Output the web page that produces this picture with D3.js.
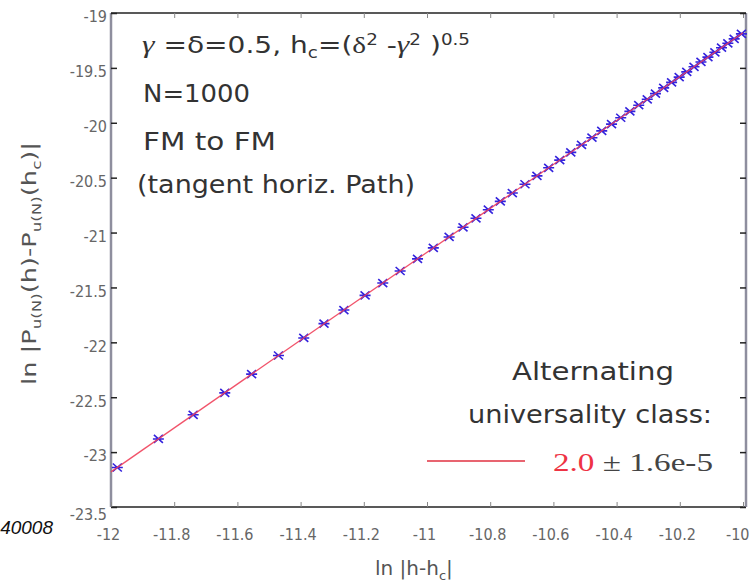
<!DOCTYPE html>
<html><head><meta charset="utf-8">
<script src="https://cdn.jsdelivr.net/npm/d3@7"></script>
<style>
html,body{margin:0;padding:0;background:#fff;}
svg{display:block;}
</style></head>
<body>
<svg id="chart" width="749" height="587"></svg>
<script>
// ---- data ----
const lnH = [-11.98,-11.85,-11.74,-11.64,-11.555,-11.47,-11.39,-11.326,-11.263,-11.196,-11.14,-11.085,-11.03,-10.98,-10.93,-10.886,-10.845,-10.806,-10.768,-10.73,-10.69,-10.652,-10.615,-10.58,-10.545,-10.511,-10.478,-10.447,-10.416,-10.387,-10.358,-10.33,-10.303,-10.277,-10.251,-10.226,-10.202,-10.178,-10.155,-10.133,-10.111,-10.089,-10.068,-10.048,-10.028,-10.005];
const lnP = [-23.14,-22.88,-22.66,-22.46,-22.29,-22.12,-21.96,-21.83,-21.706,-21.572,-21.46,-21.35,-21.24,-21.14,-21.04,-20.952,-20.87,-20.792,-20.716,-20.64,-20.56,-20.484,-20.41,-20.34,-20.27,-20.202,-20.136,-20.074,-20.012,-19.954,-19.896,-19.84,-19.786,-19.734,-19.682,-19.632,-19.584,-19.536,-19.49,-19.446,-19.402,-19.358,-19.316,-19.276,-19.236,-19.19];
const fitX = [-12, -10];
const fitY = [-23.18, -19.18];
const xTicks = [-12,-11.8,-11.6,-11.4,-11.2,-11,-10.8,-10.6,-10.4,-10.2,-10];
const yTicks = [-19,-19.5,-20,-20.5,-21,-21.5,-22,-22.5,-23,-23.5];
const xDomain = [-12, -10];
const yDomain = [-23.5, -19];

const svg = d3.select('#chart');
const L = 111, R = 743, T = 13, B = 507;
const x = d3.scaleLinear().domain(xDomain).range([L, R]);
const y = d3.scaleLinear().domain(yDomain).range([B, T]);

const tickFont = "'DejaVu Sans Condensed','DejaVu Sans',sans-serif";
const txtFont = "'DejaVu Sans',sans-serif";

// ---- frame ----
svg.append('line').attr('x1',L).attr('x2',R+3).attr('y1',T).attr('y2',T).attr('stroke','#222').attr('stroke-width',1.5);
svg.append('line').attr('x1',L).attr('x2',R+3).attr('y1',B).attr('y2',B).attr('stroke','#222').attr('stroke-width',1.5);
svg.append('line').attr('x1',L).attr('x2',L).attr('y1',T).attr('y2',B).attr('stroke','#8e8e9e').attr('stroke-width',2.5);
svg.append('line').attr('x1',R+3).attr('x2',R+3).attr('y1',T).attr('y2',B).attr('stroke','#8e8e9e').attr('stroke-width',2.5);

// ---- axes ----
const fmt = d => String(d);
const gx = svg.append('g').attr('transform',`translate(0,${B})`)
  .call(d3.axisBottom(x).tickValues(xTicks).tickFormat(fmt).tickSizeInner(-5).tickSizeOuter(0).tickPadding(22));
const gxTop = svg.append('g').attr('transform',`translate(0,${T})`)
  .call(d3.axisTop(x).tickValues(xTicks).tickFormat('').tickSizeInner(-5).tickSizeOuter(0));
const gy = svg.append('g').attr('transform',`translate(${L},0)`)
  .call(d3.axisLeft(y).tickValues(yTicks).tickFormat(fmt).tickSizeInner(-6).tickSizeOuter(0).tickPadding(4));
const gyR = svg.append('g').attr('transform',`translate(${R+3},0)`)
  .call(d3.axisRight(y).tickValues(yTicks).tickFormat('').tickSizeInner(-6).tickSizeOuter(0));
[gx,gxTop,gy,gyR].forEach(g=>{ g.select('.domain').remove(); });
gx.selectAll('line').attr('stroke','#888');
gxTop.selectAll('line').attr('stroke','#888');
gy.selectAll('line').attr('stroke','#222').attr('stroke-width',1.5);
gyR.selectAll('line').attr('stroke','#222').attr('stroke-width',1.5);
gx.selectAll('text').attr('font-family',tickFont).attr('font-size',16).attr('fill','#666').attr('dx',-3);
gx.selectAll('.tick').filter(d=>d===-10).select('text').attr('text-anchor','end').attr('dx',6);
gy.selectAll('text').attr('font-family',tickFont).attr('font-size',16).attr('fill','#666').attr('dy','0.55em');
gy.selectAll('.tick').filter(d=>d===-23.5).select('text').attr('dy','0.8em');

// ---- data marks ----
const pts = lnH.map((v,i)=>[v, lnP[i]]);
svg.append('g').selectAll('path').data(pts).join('path')
  .attr('transform',d=>`translate(${x(d[0])},${y(d[1])})`)
  .attr('d','M-4.5,-4L4.5,4M-4.5,4L4.5,-4M-5.5,0L5.5,0')
  .attr('stroke','#3322dd').attr('stroke-width',1.6).attr('fill','none');

const line = d3.line().x(d=>x(d[0])).y(d=>y(d[1]));
svg.append('path').datum(fitX.map((v,i)=>[v,fitY[i]])).attr('d',line)
  .attr('stroke','#f0405a').attr('stroke-width',1.3).attr('fill','none').attr('opacity',0.9);

// ---- annotations ----
const ann = svg.append('g').attr('fill','#333').attr('font-family',txtFont);
const t1 = ann.append('text').attr('x',142).attr('y',53).attr('font-size',23);
t1.append('tspan').attr('font-family',"'Liberation Serif',serif").attr('font-style','italic').attr('font-size',26).text('γ');
t1.append('tspan').text(' =δ=0.5, h');
t1.append('tspan').attr('font-size',15).attr('dy',5).text('c');
t1.append('tspan').attr('dy',-5).text('=(');
t1.append('tspan').attr('font-family',"'Liberation Serif',serif").attr('font-size',24).text('δ');
t1.append('tspan').attr('font-size',15).attr('dy',-8).text('2');
t1.append('tspan').attr('dy',8).text(' -');
t1.append('tspan').attr('font-family',"'Liberation Serif',serif").attr('font-style','italic').attr('font-size',26).text('γ');
t1.append('tspan').attr('font-size',15).attr('dy',-8).text('2');
t1.append('tspan').attr('dy',8).text(' )');
t1.append('tspan').attr('font-size',15).attr('dy',-8).text('0.5');
t1.attr('textLength',328).attr('lengthAdjust','spacingAndGlyphs');

ann.append('text').attr('x',143).attr('y',102).attr('font-size',24).attr('textLength',107).attr('lengthAdjust','spacingAndGlyphs').text('N=1000');
ann.append('text').attr('x',143).attr('y',150).attr('font-size',24).attr('textLength',133).attr('lengthAdjust','spacingAndGlyphs').text('FM to FM');
ann.append('text').attr('x',137).attr('y',193).attr('font-size',24).attr('textLength',278).attr('lengthAdjust','spacingAndGlyphs').text('(tangent horiz. Path)');

ann.append('text').attr('x',512).attr('y',380).attr('font-size',24).attr('textLength',162).attr('lengthAdjust','spacingAndGlyphs').text('Alternating');
ann.append('text').attr('x',468).attr('y',423).attr('font-size',24).attr('textLength',244).attr('lengthAdjust','spacingAndGlyphs').text('universality class:');

// legend
svg.append('line').attr('x1',427).attr('x2',525).attr('y1',461).attr('y2',461).attr('stroke','#e03040').attr('stroke-width',1.3);
const lt = svg.append('text').attr('x',553).attr('y',471).attr('font-family',"'Liberation Serif',serif").attr('font-size',26);
lt.append('tspan').attr('fill','#ee3344').text('2.0');
lt.append('tspan').attr('fill','#444').text(' ± 1.6e-5');
lt.attr('textLength',160).attr('lengthAdjust','spacingAndGlyphs');

// axis titles
const xl = svg.append('text').attr('x',375).attr('y',575).attr('font-family',txtFont).attr('font-size',20).attr('fill','#555');
xl.append('tspan').text('ln |h-h');
xl.append('tspan').attr('font-size',13).attr('dy',5).text('c');
xl.append('tspan').attr('dy',-5).text('|');

const yl = svg.append('text').attr('transform','translate(36,385) rotate(-90)').attr('font-family',txtFont).attr('font-size',20).attr('fill','#555');
yl.append('tspan').text('ln |P');
yl.append('tspan').attr('font-size',13).attr('dy',5).text('u(N)');
yl.append('tspan').attr('dy',-5).text('(h)-P');
yl.append('tspan').attr('font-size',13).attr('dy',5).text('u(N)');
yl.append('tspan').attr('dy',-5).text('(h');
yl.append('tspan').attr('font-size',13).attr('dy',5).text('c');
yl.append('tspan').attr('dy',-5).text(')|');
yl.attr('textLength',243).attr('lengthAdjust','spacingAndGlyphs');

// stray fragment at the left edge
svg.append('text').attr('x',53).attr('y',534).attr('text-anchor','end')
  .attr('font-family',"'Liberation Sans',Arial,sans-serif").attr('font-style','italic').attr('font-size',19).attr('fill','#111').text('40008');
</script>
</body></html>
